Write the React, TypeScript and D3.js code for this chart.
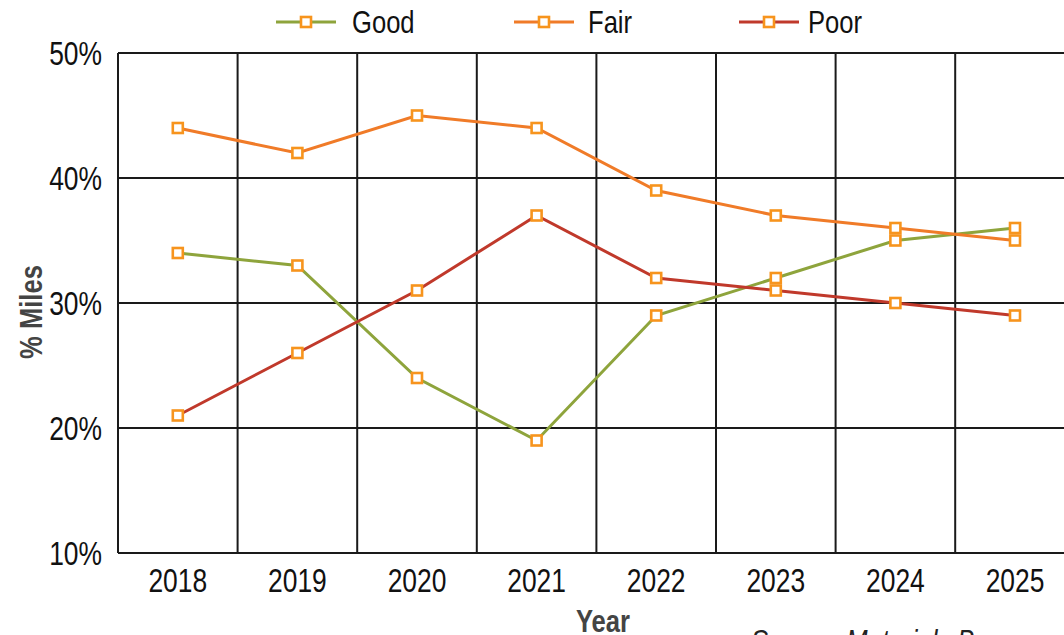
import React, { useRef, useEffect } from "react";
import * as d3 from "d3";

// chart data
const years = ["2018", "2019", "2020", "2021", "2022", "2023", "2024", "2025"];
const good = [34, 33, 24, 19, 29, 32, 35, 36];
const fair = [44, 42, 45, 44, 39, 37, 36, 35];
const poor = [21, 26, 31, 37, 32, 31, 30, 29];
const yTicks = [10, 20, 30, 40, 50];

const seriesNames = ["Good", "Fair", "Poor"];
const seriesColors = ["#8ea43c", "#f07b28", "#c0392b"];
const markerColor = "#f7941d";

const W = 1064;
const H = 635;
const FONT = "'Liberation Sans', Arial, sans-serif";
const NARROW = 0.8; // the reference uses a condensed face

export default function App() {
  const ref = useRef<SVGSVGElement>(null);

  useEffect(() => {
    const svg = d3.select(ref.current);
    svg.selectAll("*").remove();

    // plot box runs past the right edge of the picture, as in the reference
    const left = 118;
    const top = 53;
    const bottom = 553;
    const bandW = 119.6;
    const right = left + bandW * years.length;

    const x = d3.scaleBand().domain(years).range([left, right]);
    const y = d3.scaleLinear().domain([10, 50]).range([bottom, top]);

    const g = svg.append("g");

    // condensed text helper
    const label = (
      px: number,
      py: number,
      txt: string,
      opts: { size: number; anchor?: string; weight?: string; style?: string; fill?: string; rotate?: number }
    ) => {
      const t = g
        .append("g")
        .attr("transform", `translate(${px},${py}) rotate(${opts.rotate || 0}) scale(${NARROW},1)`)
        .append("text")
        .attr("text-anchor", opts.anchor || "start")
        .attr("font-family", FONT)
        .attr("font-size", opts.size)
        .attr("fill", opts.fill || "#111")
        .text(txt);
      if (opts.weight) t.attr("font-weight", opts.weight);
      if (opts.style) t.attr("font-style", opts.style);
      return t;
    };

    // horizontal grid
    g.selectAll(".hgrid")
      .data(yTicks)
      .enter()
      .append("line")
      .attr("x1", left)
      .attr("x2", right)
      .attr("y1", (d) => y(d))
      .attr("y2", (d) => y(d))
      .attr("stroke", "#1a1a1a")
      .attr("stroke-width", 2);

    // vertical band separators
    const edges = years.map((yr) => x(yr) as number).concat([right]);
    g.selectAll(".vgrid")
      .data(edges)
      .enter()
      .append("line")
      .attr("x1", (d) => d)
      .attr("x2", (d) => d)
      .attr("y1", top)
      .attr("y2", bottom)
      .attr("stroke", "#1a1a1a")
      .attr("stroke-width", 2);

    // tick labels
    yTicks.forEach((t) => label(102, y(t) + 12, `${t}%`, { size: 33, anchor: "end" }));
    years.forEach((yr) =>
      label((x(yr) as number) + x.bandwidth() / 2, 592, yr, { size: 33, anchor: "middle" })
    );

    // axis titles
    label(42, 312, "% Miles", { size: 32, anchor: "middle", weight: "bold", fill: "#444", rotate: -90 });
    label(603, 632, "Year", { size: 32, anchor: "middle", weight: "bold", fill: "#444" });
    label(751, 652, "Source: Materials Bureau", { size: 32, style: "italic", fill: "#222" });

    // series
    const data = [good, fair, poor];
    const line = d3
      .line<number>()
      .x((d, i) => (x(years[i]) as number) + x.bandwidth() / 2)
      .y((d) => y(d));

    data.forEach((vals, si) => {
      g.append("path")
        .attr("d", line(vals))
        .attr("fill", "none")
        .attr("stroke", seriesColors[si])
        .attr("stroke-width", 3);
    });

    const sz = 10;
    data.forEach((vals) => {
      g.selectAll(null)
        .data(vals)
        .enter()
        .append("rect")
        .attr("x", (d, i) => (x(years[i]) as number) + x.bandwidth() / 2 - sz / 2)
        .attr("y", (d) => y(d) - sz / 2)
        .attr("width", sz)
        .attr("height", sz)
        .attr("fill", "#fff")
        .attr("stroke", markerColor)
        .attr("stroke-width", 2.6);
    });

    // legend
    const legendX = [276, 514, 739];
    const textOff = [76, 74, 69];
    seriesNames.forEach((name, i) => {
      const lg = g.append("g").attr("transform", `translate(${legendX[i]},22)`);
      lg.append("line")
        .attr("x1", 0)
        .attr("x2", 60)
        .attr("stroke", seriesColors[i])
        .attr("stroke-width", 3);
      lg.append("rect")
        .attr("x", 30 - sz / 2)
        .attr("y", -sz / 2)
        .attr("width", sz)
        .attr("height", sz)
        .attr("fill", "#fff")
        .attr("stroke", markerColor)
        .attr("stroke-width", 2.6);
      label(legendX[i] + textOff[i], 33, name, { size: 32 });
    });
  }, []);

  return (
    <svg
      ref={ref}
      width={W}
      height={H}
      style={{ position: "absolute", left: 0, top: 0, display: "block", background: "#fff" }}
    />
  );
}
